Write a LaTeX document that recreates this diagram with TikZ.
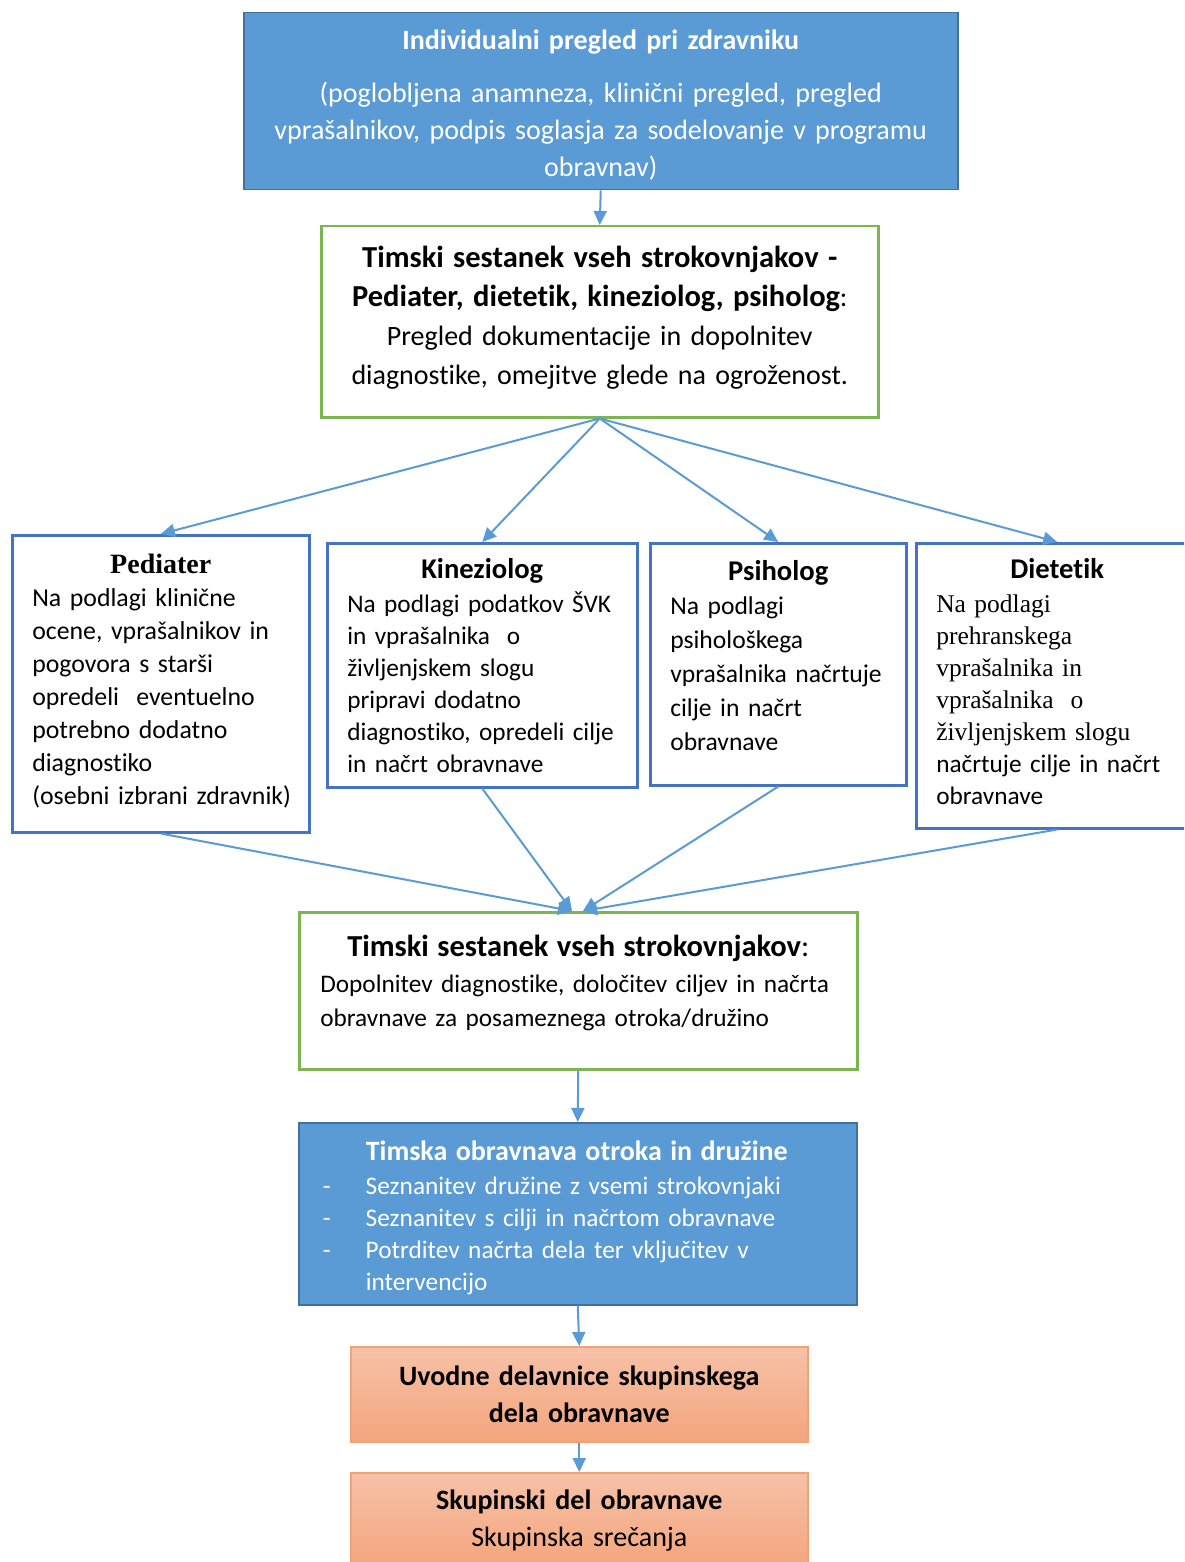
\documentclass[tikz,border=0pt]{standalone}
\usepackage{fontspec}
\setmainfont{Carlito}[Ligatures=NoCommon]
\newfontfamily\tms{Liberation Serif}
\usetikzlibrary{arrows.meta}
\definecolor{fillblue}{HTML}{5B9BD5}
\definecolor{lineblue}{HTML}{41719C}
\definecolor{roleblue}{HTML}{4472C4}
\definecolor{grn}{HTML}{7CB552}
\definecolor{orngtop}{HTML}{F6C1A8}
\definecolor{orngbot}{HTML}{F4A57C}
\definecolor{orngline}{HTML}{F2A273}
\newcommand{\ttl}[1]{\makebox[\linewidth][c]{#1}}
\newcommand{\dn}[1]{\rule[-#1]{0pt}{#1}}
\newcommand{\up}[1]{\rule{0pt}{#1}}
\begin{document}
\begin{tikzpicture}[x=1pt, y=-1pt, >={Triangle[length=14pt,width=13pt]},
    box/.style={rectangle, anchor=north west, inner xsep=20pt, inner ysep=0pt},
    leftbox/.style={align=left, execute at begin node={\rightskip=-40pt plus 1fil\relax}},
    bluebox/.style={box, fill=fillblue, draw=lineblue, line width=1.5pt, text=white},
    greenbox/.style={box, fill=white, draw=grn, line width=2.5pt},
    rolebox/.style={box, leftbox, fill=white, draw=roleblue, line width=2.5pt},
    orangebox/.style={box, align=center, top color=orngtop, bottom color=orngbot, draw=orngline, line width=1.5pt},
    conn/.style={->, draw=fillblue, line width=2pt}]
  \fill[white] (0,0) rectangle (1184,1562);
  \clip (0,0) rectangle (1184,1562);
  \node[bluebox, align=center, minimum width=714pt, minimum height=177pt, text width=674pt, font=\fontsize{28}{37}\selectfont] (pregled) at (243,12) {\up{28pt}\textbf{Individualni pregled pri zdravniku}\\[16pt] (poglobljena anamneza, klinični pregled, pregled\\ vprašalnikov, podpis soglasja za sodelovanje v programu\\ obravnav)};
  \node[greenbox, align=center, minimum width=557pt, minimum height=191pt, text width=517pt, font=\fontsize{28}{39}\selectfont] (timski1) at (320,225) {{\fontsize{30.5}{39}\selectfont\bfseries Timski sestanek vseh strokovnjakov -}\\ {\fontsize{30.5}{39}\selectfont\bfseries Pediater, dietetik, kineziolog, psiholog}:\\ Pregled dokumentacije in dopolnitev\\ diagnostike, omejitve glede na ogroženost.\dn{12pt}};
  \node[rolebox, minimum width=297pt, minimum height=297pt, text width=257pt, font=\fontsize{25.8}{33}\selectfont] (ped) at (11,534) {\ttl{\tms\bfseries\fontsize{28}{33}\selectfont Pediater}\\ Na podlagi klinične\\ ocene, vprašalnikov in\\ pogovora s starši\\ opredeli~ eventuelno\\ potrebno dodatno\\ diagnostiko\\ (osebni izbrani zdravnik)\dn{9pt}};
  \node[rolebox, minimum width=310pt, minimum height=244pt, text width=270pt, font=\fontsize{25.3}{32}\selectfont] (kin) at (326,542) {\ttl{\bfseries\fontsize{28.6}{32}\selectfont Kineziolog}\\[2pt] Na podlagi podatkov ŠVK\\ in vprašalnika~ o\\ življenjskem slogu\\ pripravi dodatno\\ diagnostiko, opredeli cilje\\ in načrt obravnave};
  \node[rolebox, minimum width=256pt, minimum height=242pt, text width=216pt, font=\fontsize{25.6}{34}\selectfont] (psi) at (649,542) {\ttl{\bfseries\fontsize{28.6}{34}\selectfont Psiholog}\\ Na podlagi\\ psihološkega\\ vprašalnika načrtuje\\ cilje in načrt\\ obravnave\dn{18pt}};
  \node[rolebox, minimum width=282pt, minimum height=285pt, text width=242pt, font=\fontsize{25.3}{32}\selectfont] (die) at (915,542) {\ttl{\bfseries\fontsize{28.6}{32}\selectfont Dietetik}\\[2pt] {\tms\fontsize{25.5}{32}\selectfont Na podlagi}\\ {\tms\fontsize{25.5}{32}\selectfont prehranskega}\\ {\tms\fontsize{25.5}{32}\selectfont vprašalnika in}\\ {\tms\fontsize{25.5}{32}\selectfont vprašalnika~ o}\\ {\tms\fontsize{25.5}{32}\selectfont življenjskem slogu}\\ načrtuje cilje in načrt\\ obravnave\dn{8pt}};
  \node[greenbox, leftbox, minimum width=558pt, minimum height=157pt, text width=516pt, inner xsep=21pt, font=\fontsize{25.3}{34}\selectfont] (timski2) at (298,911) {\ttl{{\fontsize{30.5}{34}\selectfont\bfseries Timski sestanek vseh strokovnjakov}{\fontsize{30.5}{34}\selectfont :}}\\[2pt] Dopolnitev diagnostike, določitev ciljev in načrta\\ obravnave za posameznega otroka/družino\dn{19pt}};
  \node[bluebox, leftbox, minimum width=558pt, minimum height=182pt, text width=510pt, inner xsep=24pt, font=\fontsize{25.3}{32}\selectfont] (timska) at (298,1122) {\up{28pt}\hspace*{43pt}{\fontsize{28}{32}\selectfont\bfseries Timska obravnava otroka in družine}\\[2pt] \makebox[43pt][l]{-}Seznanitev družine z vsemi strokovnjaki\\ \makebox[43pt][l]{-}Seznanitev s cilji in načrtom obravnave\\ \makebox[43pt][l]{-}Potrditev načrta dela ter vključitev v\\ \hspace*{43pt}intervencijo};
  \node[orangebox, minimum width=457pt, minimum height=95pt, text width=417pt, font=\fontsize{28}{37}\selectfont] (uvod) at (350,1346) {\textbf{Uvodne delavnice skupinskega}\\ \textbf{dela obravnave}};
  \node[orangebox, minimum width=457pt, minimum height=96pt, text width=417pt, font=\fontsize{28}{37}\selectfont] (skup) at (350,1472) {\textbf{Skupinski del obravnave}\\ Skupinska srečanja};
  \coordinate (inL) at (572,911);
  \coordinate (inR) at (583,911);
  \draw[conn] (pregled.south) -- (timski1.north);
  \draw[conn] (timski1.south) -- (ped.north);
  \draw[conn] (timski1.south) -- (kin.north);
  \draw[conn] (timski1.south) -- (psi.north);
  \draw[conn] (timski1.south) -- (die.north);
  \draw[conn] (ped.south) -- (inL);
  \draw[conn] (kin.south) -- (inL);
  \draw[conn] (psi.south) -- (inR);
  \draw[conn] (die.south) -- (inR);
  \draw[conn] (timski2.south) -- (timska.north);
  \draw[conn] (timska.south) -- (uvod.north);
  \draw[conn] (uvod.south) -- (skup.north);
\end{tikzpicture}
\end{document}
